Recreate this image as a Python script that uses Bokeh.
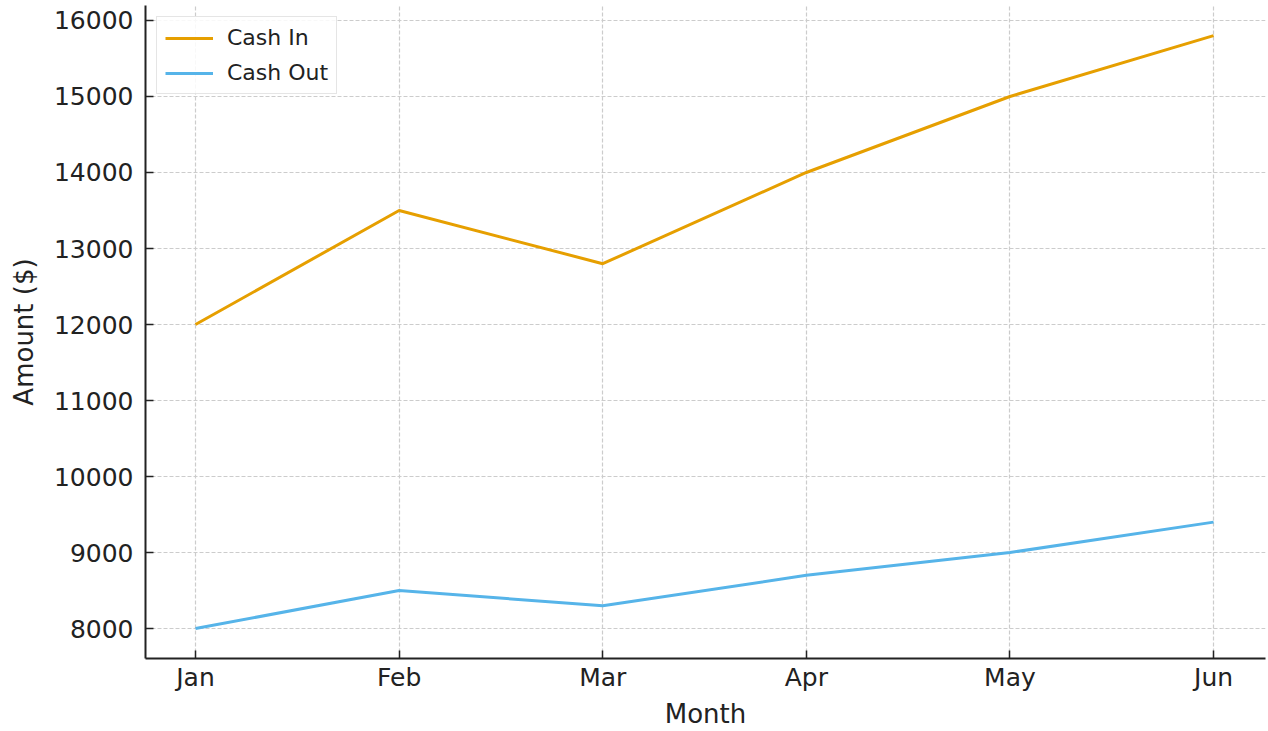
from bokeh.plotting import figure
from bokeh.models import FixedTicker, Range1d, Legend, LegendItem
from bokeh.embed import file_html
from bokeh.resources import INLINE

months = ["Jan", "Feb", "Mar", "Apr", "May", "Jun"]
cash_in = [12000, 13500, 12800, 14000, 15000, 15800]
cash_out = [8000, 8500, 8300, 8700, 9000, 9400]
y_ticks = [8000, 9000, 10000, 11000, 12000, 13000, 14000, 15000, 16000]

xs = list(range(len(months)))
FONT = "DejaVu Sans"

p = figure(width=1268, height=731, output_backend="svg", toolbar_location=None,
           x_range=Range1d(-0.2456, 5.255), y_range=Range1d(7606, 16197),
           min_border_left=145, min_border_right=3, min_border_top=5, min_border_bottom=72)
p.outline_line_color = None
p.background_fill_color = "white"

r_in = p.line(xs, cash_in, line_color="#E69F00", line_width=3)
r_out = p.line(xs, cash_out, line_color="#56B4E9", line_width=3)

for ax in (p.xaxis[0], p.yaxis[0]):
    ax.axis_line_width = 2
    ax.axis_line_color = "#222222"
    ax.major_tick_line_color = "#222222"
    ax.major_tick_line_width = 1.5
    ax.major_tick_in = 8
    ax.major_tick_out = 0
    ax.minor_tick_line_color = None
    ax.major_label_text_font = FONT
    ax.major_label_text_font_size = "25px"
    ax.major_label_text_color = "#222222"
    ax.axis_label_text_font = FONT
    ax.axis_label_text_font_size = "26px"
    ax.axis_label_text_font_style = "normal"
    ax.axis_label_text_color = "#222222"

p.xaxis.ticker = FixedTicker(ticks=xs)
p.xaxis.major_label_overrides = {i: m for i, m in enumerate(months)}
p.xaxis.axis_label = "Month"
p.xaxis.major_label_standoff = 4
p.xaxis.axis_label_standoff = 4

p.yaxis.ticker = FixedTicker(ticks=y_ticks)
p.yaxis.axis_label = "Amount ($)"
p.yaxis.major_label_standoff = 12
p.yaxis.axis_label_standoff = 12

for g in (p.xgrid[0], p.ygrid[0]):
    g.grid_line_color = "#cccccc"
    g.grid_line_dash = "4 2"
    g.grid_line_width = 1.2
p.xgrid.ticker = FixedTicker(ticks=xs)
p.ygrid.ticker = FixedTicker(ticks=y_ticks)

legend = Legend(items=[LegendItem(label="Cash In", renderers=[r_in]),
                       LegendItem(label="Cash Out", renderers=[r_out])],
                location="top_left")
legend.label_text_font = FONT
legend.label_text_font_size = "22px"
legend.label_text_color = "#222222"
legend.border_line_color = "#cccccc"
legend.border_line_width = 1.5
legend.background_fill_alpha = 0.85
legend.glyph_width = 48
legend.glyph_height = 24
legend.label_standoff = 14
legend.spacing = 10
legend.padding = 8
legend.margin = 11
p.add_layout(legend)

open("out.html", "w").write(file_html(p, INLINE))
